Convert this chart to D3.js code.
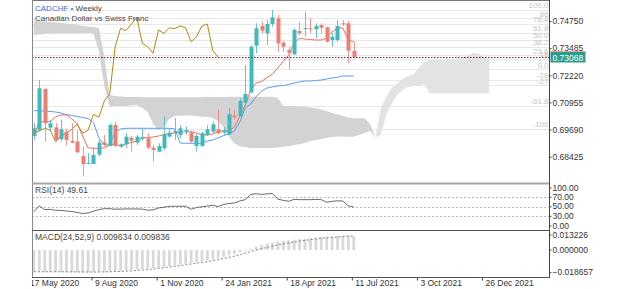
<!DOCTYPE html>
<html>
<head>
<meta charset="utf-8">
<script src="https://cdn.jsdelivr.net/npm/d3@7"></script>
<style>
  body { margin: 0; background: #fff; }
  svg text { font-family: "Liberation Sans", Arial, sans-serif; }
</style>
</head>
<body>
<div id="display"></div>
<script>
let w = 625;
let h = 289;

// weekly candles, first week 24 May 2020
const firstWeek = "24 May 2020";
const opens  = [0.69392,0.69672,0.71582,0.69780,0.69796,0.69237,0.69594,0.69159,0.69128,0.68460,
                0.68103,0.68088,0.68522,0.69097,0.68926,0.69905,0.68895,0.69004,0.69315,0.69082,
                0.69268,0.69284,0.68849,0.68662,0.68818,0.69361,0.69548,0.69439,0.69594,0.69548,
                0.68926,0.68926,0.69439,0.69594,0.69703,0.69548,0.69470,0.70340,0.70324,0.70945,
                0.71420,0.73599,0.74517,0.74177,0.74610,0.74876,0.73739,0.73399,0.73198,0.74284,
                0.74377,0.74410,0.74363,0.74564,0.74456,0.73865,0.73865,0.74643,0.74643,0.73352];
const highs  = [0.69982,0.72001,0.71613,0.70138,0.69982,0.70138,0.69734,0.69982,0.69672,0.68895,
                0.68585,0.68864,0.69206,0.69439,0.69982,0.70060,0.69051,0.69517,0.69392,0.69439,
                0.69749,0.69517,0.68973,0.69051,0.70293,0.69749,0.70231,0.69905,0.69827,0.69641,
                0.69485,0.69594,0.69905,0.70060,0.70604,0.69796,0.70681,0.70604,0.71147,0.72700,
                0.73632,0.74643,0.74717,0.74797,0.75263,0.75030,0.73832,0.73552,0.74410,0.74717,
                0.75183,0.74876,0.74643,0.74643,0.74484,0.74177,0.74797,0.74797,0.74764,0.73785];
const lows   = [0.69206,0.69594,0.69128,0.69594,0.69128,0.69144,0.68942,0.69051,0.68585,0.67498,
                0.68088,0.68088,0.68429,0.68895,0.68895,0.68864,0.68818,0.68818,0.68662,0.68973,
                0.69175,0.68771,0.68196,0.68631,0.68740,0.69330,0.69206,0.69284,0.69439,0.69082,
                0.68662,0.68895,0.69392,0.69485,0.69485,0.69439,0.69439,0.70138,0.70293,0.70914,
                0.71380,0.73245,0.74177,0.73632,0.74484,0.73319,0.73319,0.72499,0.73166,0.74098,
                0.74018,0.74191,0.73944,0.74177,0.73739,0.73552,0.73785,0.74517,0.72779,0.73012];
const closes = [0.69749,0.71613,0.69982,0.69982,0.69206,0.69703,0.69206,0.69082,0.68631,0.68072,
                0.68134,0.68507,0.69082,0.68973,0.69905,0.68926,0.69004,0.69361,0.69175,0.69361,
                0.69346,0.68849,0.68740,0.68926,0.69470,0.69548,0.69625,0.69749,0.69672,0.69128,
                0.69392,0.69517,0.69703,0.69936,0.69517,0.69656,0.70402,0.70262,0.71023,0.71349,
                0.73552,0.74410,0.74298,0.74610,0.74922,0.73711,0.73552,0.73245,0.74331,0.74177,
                0.74424,0.74396,0.74517,0.74438,0.73785,0.74018,0.74517,0.74610,0.73366,0.73068];

const tenkan = [0.69437,0.70043,0.70057,0.70057,0.70275,0.70369,0.70369,0.70183,0.69973,0.69390,
                0.68835,0.68817,0.68817,0.68835,0.68974,0.69017,0.68924,0.69017,0.69087,0.69157,
                0.69297,0.69320,0.69343,0.69390,0.69460,0.69506,0.69530,0.69576,0.69576,0.69590,
                0.69530,0.69437,0.69437,0.69483,0.69600,0.69623,0.69623,0.69809,0.70322,0.70835,
                0.71534,0.71860,0.71930,0.72117,0.72280,0.72560,0.72886,0.73142,0.73750,0.73935,
                0.73911,0.73888,0.73865,0.73865,0.73958,0.74237,0.74424,0.74424,0.73865,0.73785];
const kijun  = [0.70569,0.70569,0.70555,0.70532,0.70509,0.70462,0.70392,0.70346,0.70299,0.70252,
                0.70206,0.70020,0.69297,0.68974,0.68974,0.69577,0.69716,0.69749,0.69749,0.69749,
                0.69749,0.69749,0.69749,0.69749,0.69749,0.69749,0.69716,0.69064,0.69050,0.69050,
                0.69050,0.69050,0.69157,0.69204,0.69297,0.69413,0.69483,0.69623,0.70043,0.70695,
                0.70882,0.71222,0.71488,0.71627,0.71674,0.71721,0.71744,0.71790,0.71860,0.71907,
                0.71954,0.71954,0.71977,0.72000,0.72047,0.72093,0.72126,0.72187,0.72187,0.72187];
const shiftWeeks = 25;

// cloud edges, one value per week from the first candle
const cloudTop = [0.74774,0.74750,0.74727,0.74704,0.74680,0.74657,0.74634,0.74610,0.74564,0.74517,
                  0.74494,0.74471,0.74424,0.73072,0.71301,0.71254,0.71231,0.71208,0.71208,0.71208,
                  0.71194,0.71194,0.71194,0.71194,0.71194,0.71194,0.71194,0.71194,0.71194,0.71194,
                  0.71194,0.71194,0.71208,0.71208,0.71208,0.71208,0.71222,0.71222,0.71222,0.71222,
                  0.71222,0.71222,0.71222,0.71222,0.71222,0.71161,0.70788,0.70788,0.70774,0.70765,
                  0.70756,0.70719,0.70681,0.70625,0.70555,0.70462,0.70392,0.70322,0.70252,0.70215,
                  0.70215,0.70215,0.69949,0.69320,0.70695,0.71208,0.71627,0.71839,0.72047,0.72187,
                  0.72257,0.72560,0.72839,0.72932,0.72932,0.72932,0.72932,0.72932,0.72932,0.73026,
                  0.73166,0.73259,0.73245,0.73096,0.73012];
const cloudBottom = [0.74098,0.74121,0.74144,0.74168,0.74177,0.74177,0.74177,0.74177,0.74177,0.74182,
                  0.74191,0.74168,0.73352,0.71721,0.70742,0.70788,0.70788,0.70788,0.70812,0.70835,
                  0.70695,0.70509,0.69949,0.69670,0.69809,0.70183,0.70322,0.70336,0.70346,0.70346,
                  0.70322,0.70289,0.70275,0.70229,0.70089,0.69809,0.69343,0.69050,0.68904,0.68882,
                  0.68835,0.68835,0.68835,0.68835,0.68835,0.68859,0.68882,0.68928,0.68974,0.69011,
                  0.69064,0.69157,0.69204,0.69250,0.69297,0.69343,0.69367,0.69367,0.69357,0.69357,
                  0.69437,0.69530,0.69623,0.69320,0.69437,0.70369,0.70882,0.71301,0.71534,0.71674,
                  0.71721,0.71744,0.71814,0.71380,0.71380,0.71380,0.71380,0.71380,0.71380,0.71380,
                  0.71380,0.71380,0.71380,0.71380,0.71380];
const twistWeek = 63;

// fibonacci retracement from the swing low to the swing high
const fibLow = 0.72499;
const fibHigh = 0.75263;
const fibLevels = [100, 86, 76.4, 61.8, 50, 38.2, 23.6, 18, 0, -18, -27, -61.8, -100];
const fibLabels = ["100.0", "86", "76.4", "61.8", "50.0", "38.2", "23.6", "18", "0.0", "-18", "-27", "-61.8", "-100"];

const priceTicks = [0.74750, 0.73485, 0.72220, 0.70955, 0.69690, 0.68425];

const rsi = [39.5,51.7,44,44.5,42.5,42.5,41,40,38,35.8,
             37,40.6,44,46,46,44.8,45,45.4,45.4,45.4,
             45,42.7,43.5,47.5,49,51,51,51,51,44.8,
             48.3,50,51.5,53,50.4,55,56.7,58,62,65,
             76,77.5,76,77,78,66,63.5,61.5,65.5,65,
             65,65,65.5,65,59.5,61.5,62.5,62,52,49.61];
const rsiTicks = [100, 70, 50, 30, 0];

const macd = [-0.0149,-0.0147,-0.0149,-0.0150,-0.0151,-0.0151,-0.0152,-0.0152,-0.0153,-0.0154,
              -0.0154,-0.0153,-0.0151,-0.0150,-0.0147,-0.0146,-0.0144,-0.0141,-0.0138,-0.0135,
              -0.0132,-0.0129,-0.0126,-0.0122,-0.0117,-0.0112,-0.0107,-0.0101,-0.0095,-0.0090,
              -0.0085,-0.0079,-0.0072,-0.0064,-0.0056,-0.0047,-0.0037,-0.0027,-0.0016,-0.0004,
              0.0010,0.0024,0.0035,0.0045,0.0055,0.0059,0.0063,0.0067,0.0073,0.0077,
              0.0081,0.0085,0.0088,0.0091,0.0092,0.0094,0.0097,0.0099,0.0097,0.009634];
const signal = [-0.0150,-0.0150,-0.0150,-0.0150,-0.0150,-0.0150,-0.0151,-0.0151,-0.0151,-0.0152,
              -0.0152,-0.0152,-0.0152,-0.0151,-0.0150,-0.0149,-0.0148,-0.0146,-0.0144,-0.0141,
              -0.0138,-0.0135,-0.0131,-0.0127,-0.0123,-0.0118,-0.0113,-0.0108,-0.0102,-0.0097,
              -0.0091,-0.0086,-0.0080,-0.0073,-0.0066,-0.0059,-0.0051,-0.0042,-0.0033,-0.0022,
              -0.0011,0.0000,0.0010,0.0019,0.0028,0.0036,0.0043,0.0050,0.0056,0.0062,
              0.0067,0.0072,0.0077,0.0081,0.0085,0.0088,0.0091,0.0094,0.0097,0.009836];
const macdTicks = [0.013226, 0.000000, -0.018657];

const dateTicks = ["17 May 2020", "9 Aug 2020", "1 Nov 2020", "24 Jan 2021", "18 Apr 2021",
                   "11 Jul 2021", "3 Oct 2021", "26 Dec 2021"];
const axisEnd = "20 Mar 2022";

const left = 32, right = 549.5;
const upColor = '#41b8bc', downColor = '#ee7d74';

let viz = d3.select('#display')
            .append('svg')
                .attr('width', w)
                .attr('height', h)
                .style('background-color', 'white');

const parseDay = d3.utcParse("%d %b %Y");
const WEEK = 7 * 24 * 3600 * 1000;
const start = parseDay(firstWeek);

let xScale = d3.scaleUtc().domain([parseDay(dateTicks[0]), parseDay(axisEnd)]).range([26.5, 547]);
const xAt = (i) => xScale(new Date(start.getTime() + (i + 0.35) * WEEK));

let yScale = d3.scaleLinear().domain([0.68425, 0.74750]).range([156.7, 21]);
let rsiScale = d3.scaleLinear().domain([0, 100]).range([230.5, 183]);
let macdScale = d3.scaleLinear().domain([-0.018657, 0.013226]).range([277, 231]);

viz.append('clipPath').attr('id', 'main').append('rect')
    .attr('x', left).attr('y', 1).attr('width', right - left).attr('height', 181.5);
viz.append('clipPath').attr('id', 'xlab').append('rect')
    .attr('x', left).attr('y', 270).attr('width', w - left).attr('height', 19);

let main = viz.append('g').attr('clip-path', 'url(#main)');

// fib lines
const fibPrice = (l) => fibLow + (fibHigh - fibLow) * l / 100;
main.selectAll('.fib')
    .data(fibLevels)
    .join('line')
        .attr('x1', left).attr('x2', right)
        .attr('y1', (d) => Math.round(yScale(fibPrice(d))) + 0.5)
        .attr('y2', (d) => Math.round(yScale(fibPrice(d))) + 0.5)
        .attr('stroke', '#e8e8e8');

// cloud
const cloudIdx = d3.range(cloudTop.length);
let cloudArea = d3.area()
    .x((i) => xAt(i))
    .y0((i) => yScale(cloudBottom[i]))
    .y1((i) => yScale(cloudTop[i]));
main.append('path')
    .attr('d', cloudArea(cloudIdx.filter((i) => i <= twistWeek)))
    .attr('fill', '#d3d3d3');
main.append('path')
    .attr('d', cloudArea(cloudIdx.filter((i) => i >= twistWeek)))
    .attr('fill', '#e3e3e3');

// lines
let priceLine = d3.line().x((d, i) => xAt(i)).y((d) => yScale(d));
main.append('path').attr('d', priceLine(kijun))
    .attr('fill', 'none').attr('stroke', '#5b9cf4').attr('stroke-width', 1);
main.append('path').attr('d', priceLine(tenkan))
    .attr('fill', 'none').attr('stroke', '#f06e5e').attr('stroke-width', 1);
main.append('path').attr('d', priceLine(closes.slice(shiftWeeks)))
    .attr('fill', 'none').attr('stroke', '#b8860b').attr('stroke-width', 1);

// candles
let candles = main.selectAll('.candle')
    .data(closes)
    .join('g');
candles.append('line')
    .attr('x1', (d, i) => Math.round(xAt(i)) + 0.5)
    .attr('x2', (d, i) => Math.round(xAt(i)) + 0.5)
    .attr('y1', (d, i) => yScale(highs[i]))
    .attr('y2', (d, i) => yScale(lows[i]))
    .attr('stroke', (d, i) => d >= opens[i] ? upColor : downColor)
    .attr('stroke-opacity', 0.8);
candles.append('rect')
    .attr('x', (d, i) => Math.round(xAt(i)) - 1.5)
    .attr('width', 4)
    .attr('y', (d, i) => yScale(Math.max(d, opens[i])))
    .attr('height', (d, i) => Math.max(1, Math.abs(yScale(d) - yScale(opens[i]))))
    .attr('fill', (d, i) => d >= opens[i] ? upColor : downColor);

// last price line
const last = closes[closes.length - 1];
const lastY = Math.round(yScale(last)) + 0.5;
viz.append('line')
    .attr('x1', left).attr('x2', right)
    .attr('y1', lastY).attr('y2', lastY)
    .attr('stroke', '#7e2222').attr('stroke-dasharray', '1.5,1.5');

// fib labels
viz.selectAll('.fibl')
    .data(fibLevels)
    .join('text')
        .attr('x', right - 1)
        .attr('y', (d) => yScale(fibPrice(d)) - 1.5)
        .attr('text-anchor', 'end')
        .attr('font-size', 8)
        .attr('fill', '#c4c4c4')
        .text((d, i) => fibLabels[i]);

// title
let title = viz.append('text').attr('x', 35).attr('y', 10.5).attr('font-size', 8);
title.append('tspan').attr('fill', '#3a6fe0').text('CADCHF • ');
title.append('tspan').attr('fill', '#444').text('Weekly');
viz.append('text').attr('x', 35).attr('y', 20.5).attr('font-size', 8).attr('fill', '#444')
    .text('Canadian Dollar vs Swiss Franc');

// RSI panel
[30, 50, 70].forEach((v) => {
    viz.append('line')
        .attr('x1', left).attr('x2', right)
        .attr('y1', Math.round(rsiScale(v)) + 0.5).attr('y2', Math.round(rsiScale(v)) + 0.5)
        .attr('stroke', '#bbb').attr('stroke-dasharray', '2,2');
});
viz.append('path')
    .attr('d', d3.line().x((d, i) => xAt(i)).y((d) => rsiScale(d))(rsi))
    .attr('fill', 'none').attr('stroke', '#444').attr('stroke-width', 0.8);
viz.append('text').attr('x', 35).attr('y', 193).attr('font-size', 8.5).attr('fill', '#444')
    .text('RSI(14) ' + d3.format('.2f')(rsi[rsi.length - 1]));

// MACD panel
viz.selectAll('.mbar')
    .data(macd)
    .join('rect')
        .attr('x', (d, i) => xAt(i) - 1.3)
        .attr('width', 2.8)
        .attr('y', (d) => Math.min(macdScale(0), macdScale(d)))
        .attr('height', (d) => Math.abs(macdScale(d) - macdScale(0)))
        .attr('fill', '#d9d9d9');
viz.append('path')
    .attr('d', d3.line().x((d, i) => xAt(i)).y((d) => macdScale(d))(signal))
    .attr('fill', 'none').attr('stroke', '#666').attr('stroke-width', 0.8)
    .attr('stroke-dasharray', '2,2');
viz.append('text').attr('x', 35).attr('y', 239.5).attr('font-size', 8.5).attr('fill', '#444')
    .text('MACD(24,52,9) ' + d3.format('.6f')(macd[macd.length - 1]) + ' ' + d3.format('.6f')(signal[signal.length - 1]));

// frames
viz.append('line').attr('x1', left).attr('x2', right).attr('y1', 0.5).attr('y2', 0.5).attr('stroke', '#777');
viz.append('line').attr('x1', left + 0.5).attr('x2', left + 0.5).attr('y1', 0).attr('y2', 278).attr('stroke', '#888');
viz.append('rect').attr('x', left).attr('y', 182.5).attr('width', right - left).attr('height', 2).attr('fill', '#a6a6a6');
viz.append('line').attr('x1', left).attr('x2', right).attr('y1', 230.5).attr('y2', 230.5).attr('stroke', '#555');
viz.append('line').attr('x1', left).attr('x2', right).attr('y1', 277.5).attr('y2', 277.5).attr('stroke', '#555');
viz.append('line').attr('x1', right).attr('x2', right).attr('y1', 0).attr('y2', 278).attr('stroke', '#444');

// price axis
let yAxis = d3.axisRight(yScale).tickValues(priceTicks).tickSize(2).tickPadding(1)
    .tickFormat(d3.format('.5f'));
viz.append('g')
    .attr('class', 'yaxis')
    .attr('transform', 'translate(' + right + ',' + 0 + ')')
    .call(yAxis);

// rsi axis, end labels kept inside the panel
let rsiAxis = d3.axisRight(rsiScale).tickValues(rsiTicks).tickSize(2).tickPadding(1)
    .tickFormat(d3.format('.2f'));
let rsiG = viz.append('g')
    .attr('transform', 'translate(' + right + ',' + 0 + ')')
    .call(rsiAxis);
rsiG.selectAll('.tick').attr('transform', (d) => 'translate(0,' + Math.max(188, Math.min(226, rsiScale(d))) + ')');

let macdAxis = d3.axisRight(macdScale).tickValues(macdTicks).tickSize(2).tickPadding(1)
    .tickFormat(d3.format('.6f'));
let macdG = viz.append('g')
    .attr('transform', 'translate(' + right + ',' + 0 + ')')
    .call(macdAxis);
macdG.selectAll('.tick').attr('transform', (d) => 'translate(0,' + Math.max(235, Math.min(272.7, macdScale(d))) + ')');

// last price tag
viz.append('rect').attr('x', right + 1).attr('y', lastY - 6.5).attr('width', 35).attr('height', 1).attr('fill', '#f0a090');
viz.append('rect').attr('x', right + 1).attr('y', lastY - 5.5).attr('width', 35).attr('height', 10.5).attr('fill', '#2a9d8f');
viz.append('text').attr('x', right + 3).attr('y', lastY + 3).attr('font-size', 8.5).attr('fill', 'white')
    .text(d3.format('.5f')(last));

// time axis, clipped at the left frame
let xAxis = d3.axisBottom(xScale).tickValues(dateTicks.map(parseDay)).tickSize(3)
    .tickFormat(d3.utcFormat('%-d %b %Y'));
let xG = viz.append('g')
    .attr('clip-path', 'url(#xlab)')
    .append('g')
    .attr('class', 'xaxis')
    .attr('transform', 'translate(' + 0 + ',' + 277.5 + ')')
    .call(xAxis);
xG.selectAll('text').attr('text-anchor', 'start').attr('x', 3).attr('y', 2.5);

[viz.selectAll('.yaxis'), rsiG, macdG, xG].forEach((g) => {
    g.select('.domain').remove();
    g.selectAll('text').attr('font-size', 8.5).attr('fill', '#333')
        .attr('font-family', '"Liberation Sans", Arial, sans-serif');
    g.selectAll('line').attr('stroke', '#444');
});
</script>
</body>
</html>
